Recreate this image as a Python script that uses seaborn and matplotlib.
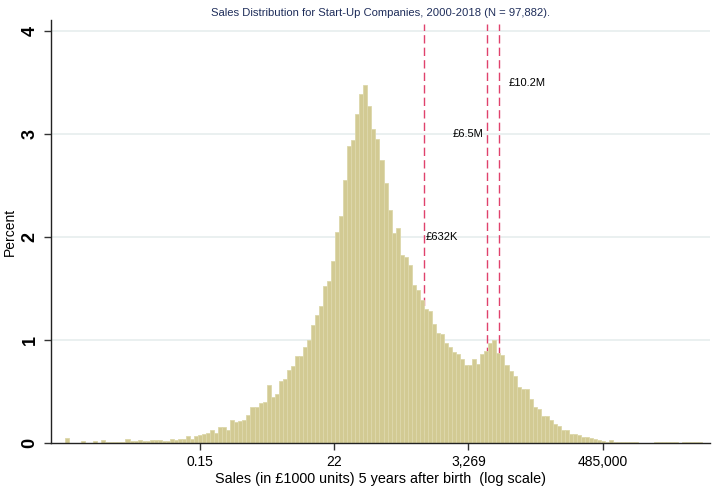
import seaborn as sns
import matplotlib.pyplot as plt
import numpy as np
import pandas as pd

# histogram of ln(sales in £1000), percent per bin
first_edge = -6.918
bin_width = 0.15
pct = [0.05, 0.0, 0.0, 0.0, 0.02, 0.0, 0.0, 0.015, 0.0, 0.03,
       0.005, 0.005, 0.008, 0.008, 0.008, 0.04, 0.02, 0.015, 0.03, 0.015,
       0.015, 0.025, 0.025, 0.025, 0.02, 0.02, 0.036, 0.026, 0.04, 0.036,
       0.07, 0.04, 0.065, 0.08, 0.088, 0.10, 0.123, 0.094, 0.16, 0.16,
       0.123, 0.22, 0.20, 0.214, 0.22, 0.27, 0.35, 0.35, 0.39, 0.40,
       0.56, 0.45, 0.48, 0.60, 0.62, 0.71, 0.75, 0.84, 0.84, 0.93,
       1.00, 1.15, 1.24, 1.33, 1.52, 1.57, 1.77, 2.05, 2.20, 2.55,
       2.88, 2.94, 3.19, 3.39, 3.48, 3.27, 3.05, 2.95, 2.75, 2.52,
       2.26, 2.04, 2.09, 1.83, 1.81, 1.73, 1.53, 1.49, 1.39, 1.30,
       1.28, 1.16, 1.07, 1.06, 0.97, 0.93, 0.88, 0.86, 0.82, 0.76,
       0.76, 0.82, 0.77, 0.86, 0.89, 0.97, 1.00, 0.87, 0.85, 0.76,
       0.70, 0.65, 0.54, 0.52, 0.52, 0.43, 0.35, 0.33, 0.265, 0.26,
       0.22, 0.18, 0.165, 0.126, 0.126, 0.084, 0.092, 0.075, 0.058, 0.055,
       0.044, 0.036, 0.03, 0.018, 0.012, 0.028, 0.01, 0.008, 0.008, 0.008,
       0.008, 0.006, 0.004, 0.004, 0.0, 0.0, 0.006, 0.006, 0.006, 0.006,
       0.006, 0.006, 0.0, 0.006, 0.006, 0.006, 0.006, 0.006]

tick_values = [0.15, 22, 3269, 485000]
tick_labels = ['0.15', '22', '3,269', '485,000']

cutoff_values = [632, 6500, 10200]      # £1000 units
cutoff_labels = ['£632K', '£6.5M', '£10.2M']
cutoff_label_y = [2.0, 3.0, 3.5]

sns.set_theme(style='white')
plt.rcParams['font.family'] = ['Liberation Sans', 'DejaVu Sans']
plt.rcParams['text.color'] = 'black'
plt.rcParams['axes.labelcolor'] = 'black'
plt.rcParams['xtick.labelcolor'] = 'black'
plt.rcParams['ytick.labelcolor'] = 'black'

edges = first_edge + bin_width * np.arange(len(pct) + 1)
df = pd.DataFrame({'log_sales': (edges[:-1] + edges[1:]) / 2, 'pct': pct})
cutoffs = np.log(cutoff_values)

fig = plt.figure(figsize=(7.12, 4.87), dpi=100)
ax = fig.add_axes([51 / 712, 44 / 487, 659 / 712, 423 / 487])

for y in [1, 2, 3, 4]:
    ax.axhline(y, color='#e6eeee', linewidth=1.2, zorder=0)

for c in cutoffs:
    ax.plot([c, c], [0, 4.07], color='#e0426c', linewidth=1.0,
            dashes=(6, 3), zorder=1)

sns.histplot(data=df, x='log_sales', weights='pct', bins=list(edges), stat='count',
             color='#d2ca93', edgecolor='#ddd8ab', linewidth=0.6,
             alpha=1, ax=ax, zorder=2)

# label placement next to each cutoff line
offsets = [(0.06, 'left'), (-0.15, 'right'), (0.37, 'left')]
for c, lab, ly, (dx, ha) in zip(cutoffs, cutoff_labels, cutoff_label_y, offsets):
    ax.text(c + dx, ly, lab, ha=ha, va='center', fontsize=8, color='black', zorder=3)

ax.set_xlim(-7.439, 17.078)
ax.set_ylim(0, 4.107)
ax.set_xticks(np.log(tick_values))
ax.set_xticklabels(tick_labels, fontsize=10)
ax.set_yticks([0, 1, 2, 3, 4])
ax.set_yticklabels(['0', '1', '2', '3', '4'], fontsize=13, fontweight='bold',
                   rotation=90, va='center')
ax.tick_params(axis='both', direction='out', length=5, width=1, color='#333333',
               left=True, bottom=True)
ax.tick_params(axis='x', pad=3.5)
ax.tick_params(axis='y', pad=4)

for side in ['top', 'right']:
    ax.spines[side].set_visible(False)
for side in ['left', 'bottom']:
    ax.spines[side].set_color('#222222')
    ax.spines[side].set_linewidth(1.0)

ax.set_xlabel('Sales (in £1000 units) 5 years after birth  (log scale)', fontsize=10.4, labelpad=2.5)
ax.set_ylabel('Percent', fontsize=10, labelpad=3)

fig.text(380.5 / 712, 1 - 13 / 487, 'Sales Distribution for Start-Up Companies, 2000-2018 (N = 97,882).',
         ha='center', va='center', fontsize=8.1, color='#1e2d5a')

fig.savefig('out.png', dpi=100, facecolor='white')
